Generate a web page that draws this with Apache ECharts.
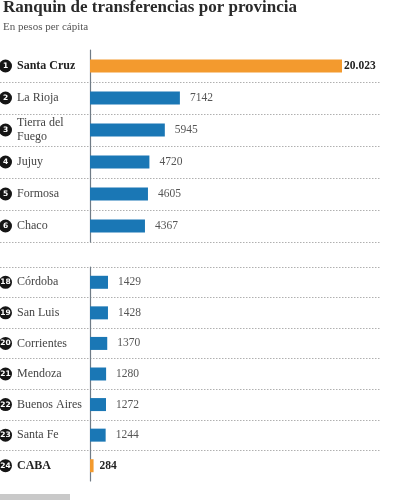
<!DOCTYPE html>
<html>
<head>
<meta charset="utf-8">
<script src="https://cdn.jsdelivr.net/npm/echarts@6/dist/echarts.min.js"></script>
<style>
  html, body { margin: 0; padding: 0; background: #fff; }
  #chart { width: 400px; height: 500px; }
</style>
</head>
<body>
<div id="chart"></div>
<script>
// top of the ranking
const topNames = ['Santa Cruz', 'La Rioja', 'Tierra del\nFuego', 'Jujuy', 'Formosa', 'Chaco']
const topRanks = [1, 2, 3, 4, 5, 6]
const topValues = [20023, 7142, 5945, 4720, 4605, 4367]
// bottom of the ranking
const bottomNames = ['Córdoba', 'San Luis', 'Corrientes', 'Mendoza', 'Buenos Aires', 'Santa Fe', 'CABA']
const bottomRanks = [18, 19, 20, 21, 22, 23, 24]
const bottomValues = [1429, 1428, 1370, 1280, 1272, 1244, 284]
const highlighted = ['Santa Cruz', 'CABA']

const SERIF = '"Liberation Serif", "DejaVu Serif", serif'
const BLUE = '#1a77b5'
const ORANGE = '#f39a2e'

const fmtValue = (v) => {
  // spanish thousands separator only on the big number, as printed
  const s = String(v)
  return v >= 10000 ? s.slice(0, s.length - 3) + '.' + s.slice(-3) : s
}

const toBars = (names, values) =>
  values.map((v, i) => {
    const hi = highlighted.includes(names[i])
    return {
      value: v,
      itemStyle: { color: hi ? ORANGE : BLUE },
      label: {
        distance: v >= 10000 ? 2 : (hi ? 6 : 10),
        fontWeight: hi ? 'bold' : 'normal',
        color: hi ? '#222' : '#555'
      }
    }
  })

const nameAxis = (gridIndex, names) => ({
  type: 'category',
  gridIndex,
  position: 'left',
  inverse: true,
  data: names,
  axisLine: { show: true, onZero: false, lineStyle: { color: '#6f7b86', width: 1.2 } },
  axisTick: { show: false },
  splitLine: { show: false },
  axisLabel: {
    interval: 0,
    margin: 73,
    align: 'left',
    formatter(value) {
      const tag = highlighted.includes(value) ? 'b' : 'r'
      return value.split('\n').map(s => `{${tag}|${s}}`).join('\n')
    },
    rich: {
      r: { fontFamily: SERIF, fontSize: 12, color: '#444', lineHeight: 14 },
      b: { fontFamily: SERIF, fontSize: 12, color: '#222', fontWeight: 'bold', lineHeight: 14 }
    }
  }
})

const rankAxis = (gridIndex, names, ranks) => ({
  type: 'category',
  gridIndex,
  position: 'left',
  inverse: true,
  data: names,
  axisLine: { show: false, onZero: false },
  axisTick: { show: false },
  splitLine: { show: false },
  axisLabel: {
    interval: 0,
    margin: 91,
    align: 'left',
    formatter(value, idx) {
      return `{c|${ranks[idx]}}`
    },
    rich: {
      c: {
        backgroundColor: '#151515',
        color: '#fff',
        borderRadius: 6.5,
        width: 13,
        height: 13,
        lineHeight: 13,
        align: 'center',
        fontSize: 7.5,
        fontWeight: 'bold',
        fontFamily: 'DejaVu Sans'
      }
    }
  }
})

// full-width axis that only draws the dotted row separators
const rowRuleAxis = (gridIndex, names, showMin, showMax) => ({
  type: 'category',
  gridIndex,
  inverse: true,
  data: names,
  axisLine: { show: false },
  axisTick: { show: false },
  axisLabel: { show: false },
  splitLine: {
    show: true,
    showMinLine: showMin,
    showMaxLine: showMax,
    lineStyle: { color: '#b0b0b0', type: [1.5, 1.5], width: 1 }
  }
})

const valueAxis = (gridIndex, max) => ({
  type: 'value',
  gridIndex,
  min: 0,
  max,
  show: false
})

const barSeries = (axisIdx, yIdx, names, values) => ({
  type: 'bar',
  xAxisIndex: axisIdx,
  yAxisIndex: yIdx,
  data: toBars(names, values),
  barWidth: 13,
  label: {
    show: true,
    position: 'right',
    fontFamily: SERIF,
    fontSize: 11.5,
    formatter: (p) => fmtValue(p.value)
  },
  silent: true
})

const noBounds = { outerBoundsMode: 'none', containLabel: false }

const chart = echarts.init(document.getElementById('chart'))
chart.setOption({
  animation: false,
  backgroundColor: '#fff',
  title: [
    {
      text: 'Ranquin de transferencias por provincia',
      left: 3,
      top: -1,
      padding: 0,
      textStyle: { fontFamily: SERIF, fontSize: 17, fontWeight: 'bold', color: '#2a2a2a' }
    },
    {
      text: 'En pesos per cápita',
      left: 3,
      top: 22,
      padding: 0,
      textStyle: { fontFamily: SERIF, fontSize: 11, fontWeight: 'normal', color: '#555' }
    }
  ],
  grid: [
    { left: 90, right: 20, top: 50, height: 192, ...noBounds },
    { left: 90, right: 20, top: 267, height: 214, ...noBounds },
    { left: 0, right: 20, top: 50, height: 192, ...noBounds },
    { left: 0, right: 20, top: 267, height: 214, ...noBounds }
  ],
  xAxis: [valueAxis(0, 23042), valueAxis(1, 23042), valueAxis(2, 1), valueAxis(3, 1)],
  yAxis: [
    nameAxis(0, topNames),
    rankAxis(0, topNames, topRanks),
    nameAxis(1, bottomNames),
    rankAxis(1, bottomNames, bottomRanks),
    rowRuleAxis(2, topNames, false, true),
    rowRuleAxis(3, bottomNames, true, false)
  ],
  series: [
    barSeries(0, 0, topNames, topValues),
    barSeries(1, 2, bottomNames, bottomValues)
  ],
  graphic: [
    { type: 'rect', left: 0, top: 494, shape: { width: 70, height: 6 }, style: { fill: '#c9c9c9' } }
  ]
})
</script>
</body>
</html>
